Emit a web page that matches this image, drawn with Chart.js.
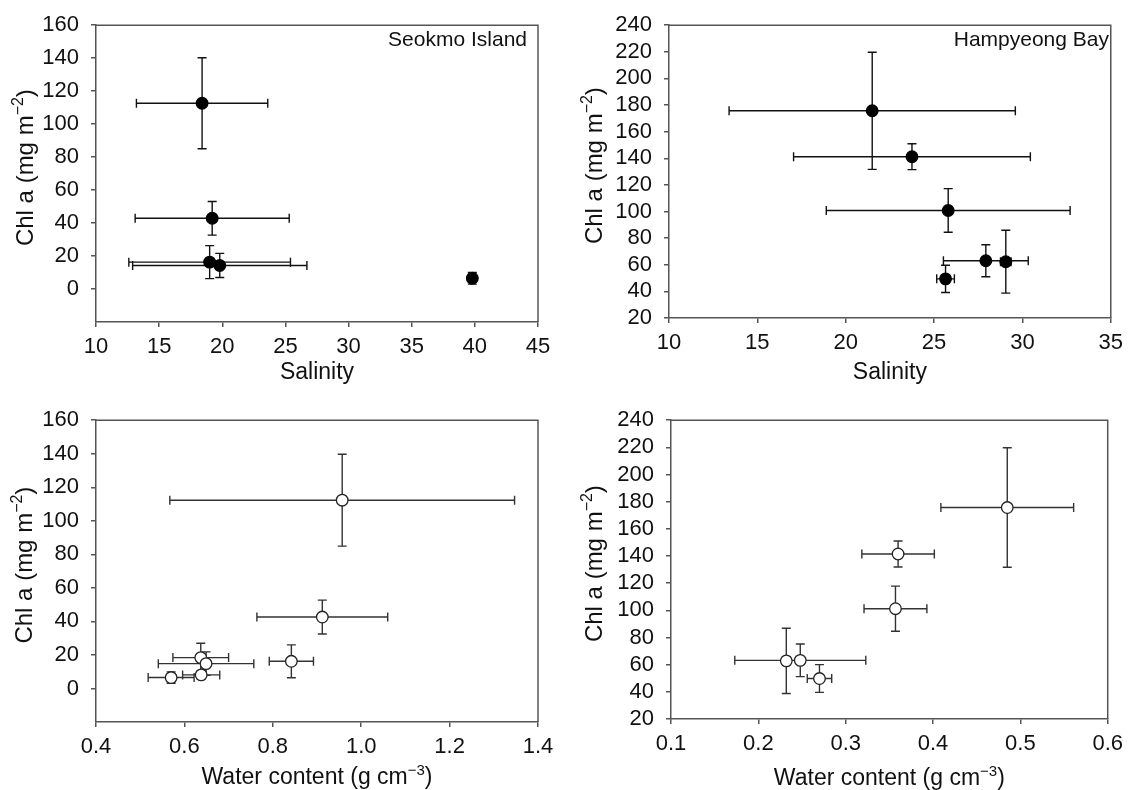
<!DOCTYPE html>
<html><head><meta charset="utf-8">
<script src="https://cdn.jsdelivr.net/npm/chart.js@4.4.1/dist/chart.umd.min.js"></script>
<style>
html,body{margin:0;padding:0;background:#fff;overflow:hidden;}
.p{position:absolute;width:565px;height:395px;}
</style></head><body>
<div class="p" style="left:0;top:0"><canvas id="c1"></canvas></div>
<div class="p" style="left:565px;top:0"><canvas id="c2"></canvas></div>
<div class="p" style="left:0;top:395px"><canvas id="c3"></canvas></div>
<div class="p" style="left:565px;top:395px"><canvas id="c4"></canvas></div>
<script>
// ---- Seokmo Island: Chl a vs salinity ----
const salSeokmo      = [18.4, 19.2, 19.0, 19.8, 39.8];
const salSeokmoErr   = [5.2, 6.1, 6.4, 6.9, 0.3];
const chlSeokmoSal   = [112.7, 42.9, 16.3, 14.3, 6.5];
const chlSeokmoSalErr= [27.6, 10.2, 10.0, 7.3, 3.5];
// ---- Hampyeong Bay: Chl a vs salinity ----
const salHamp        = [21.5, 23.75, 25.8, 27.93, 29.06, 25.65];
const salHampErr     = [8.1, 6.7, 6.9, 2.4, 0.3, 0.5];
const chlHampSal     = [175.7, 141.2, 100.8, 63.0, 62.3, 49.4];
const chlHampSalErr  = [44, 9.7, 16.4, 12, 23.6, 10.2];
// ---- Seokmo Island: Chl a vs water content ----
const wcSeokmo       = [0.957, 0.912, 0.842, 0.637, 0.649, 0.638, 0.570];
const wcSeokmoErr    = [0.39, 0.148, 0.05, 0.063, 0.108, 0.042, 0.052];
const chlSeokmoWc    = [112.3, 42.6, 16.2, 18.4, 14.8, 8.1, 6.5];
const chlSeokmoWcErr = [27.4, 10.1, 9.8, 8.6, 7.0, 2.3, 3.4];
// ---- Hampyeong Bay: Chl a vs water content ----
const wcHamp         = [0.485, 0.36, 0.357, 0.232, 0.248, 0.27];
const wcHampErr      = [0.076, 0.0415, 0.036, 0.004, 0.075, 0.014];
const chlHampWc      = [175.7, 141.5, 101.2, 62.8, 63.2, 49.8];
const chlHampWcErr   = [44, 9.6, 16.6, 24, 12, 10.2];

// axis ranges / tick steps
const salSeokmoAxis = {min:10, max:45, step:5, dec:0};
const salHampAxis   = {min:10, max:35, step:5, dec:0};
const wcSeokmoAxis  = {min:0.4, max:1.4, step:0.2, dec:1};
const wcHampAxis    = {min:0.1, max:0.6, step:0.1, dec:1};
const chlSeokmoAxis = {min:-20, max:160, step:20};
const chlHampAxis   = {min:20, max:240, step:20};

// titles
const yTitle  = [{t:'Chl a (mg m'},{t:'\u22122',s:true},{t:')'}];
const salTitle= [{t:'Salinity'}];
const wcTitle = [{t:'Water content (g cm'},{t:'\u22123',s:true},{t:')'}];

const FONT = "'Liberation Sans', Arial, Helvetica, sans-serif";
const AX = '#555';
const TXT = '#111';

function drawRich(ctx, parts, x, y, size, rot, align){
  ctx.save();
  ctx.translate(x, y);
  if (rot) ctx.rotate(-Math.PI/2);
  ctx.textBaseline = 'alphabetic';
  ctx.textAlign = 'left';
  ctx.fillStyle = TXT;
  const fontOf = p => (p.i ? 'italic ' : '') + (p.s ? Math.round(size*0.65) : size) + 'px ' + FONT;
  let total = 0;
  const widths = parts.map(p => { ctx.font = fontOf(p); const w = ctx.measureText(p.t).width; total += w; return w; });
  let cx = align === 'right' ? -total : -total/2;
  parts.forEach((p, k) => {
    ctx.font = fontOf(p);
    ctx.fillText(p.t, cx, p.s ? -size*0.4 : 0);
    cx += widths[k];
  });
  ctx.restore();
}

function makePanel(id, p){
  const W = 565, H = 395;
  const a = p.area;
  const deco = {
    id: 'deco',
    beforeDatasetsDraw(chart){
      const xs = chart.scales.x, ys = chart.scales.y, ctx = chart.ctx;
      const cap = 4.5;
      ctx.save();
      ctx.strokeStyle = p.barColor; ctx.lineWidth = 1.4;
      p.x.forEach((xv, i) => {
        const yv = p.y[i];
        const px = xs.getPixelForValue(xv), py = ys.getPixelForValue(yv);
        const x0 = xs.getPixelForValue(xv - p.xErr[i]), x1 = xs.getPixelForValue(xv + p.xErr[i]);
        const y0 = ys.getPixelForValue(yv - p.yErr[i]), y1 = ys.getPixelForValue(yv + p.yErr[i]);
        ctx.beginPath();
        ctx.moveTo(x0, py); ctx.lineTo(x1, py);
        ctx.moveTo(x0, py-cap); ctx.lineTo(x0, py+cap);
        ctx.moveTo(x1, py-cap); ctx.lineTo(x1, py+cap);
        ctx.moveTo(px, y0); ctx.lineTo(px, y1);
        ctx.moveTo(px-cap, y0); ctx.lineTo(px+cap, y0);
        ctx.moveTo(px-cap, y1); ctx.lineTo(px+cap, y1);
        ctx.stroke();
      });
      ctx.restore();
    },
    afterDraw(chart){
      const ctx = chart.ctx, ca = chart.chartArea;
      ctx.save();
      ctx.strokeStyle = AX; ctx.lineWidth = 1.5;
      ctx.beginPath();
      ctx.moveTo(ca.left, ca.top); ctx.lineTo(ca.right, ca.top); ctx.lineTo(ca.right, ca.bottom);
      ctx.stroke();
      ctx.restore();
      drawRich(ctx, p.xTitle, (ca.left+ca.right)/2, p.xTitleY, 23, false);
      drawRich(ctx, yTitle, p.yTitleX, (ca.top+ca.bottom)/2 - 6, 24, true);
      if (p.inset) drawRich(ctx, [{t:p.inset}], p.insetX, p.insetY, 21, false, 'right');
    }
  };
  const tickFont = {family: FONT, size: 22};
  return new Chart(document.getElementById(id), {
    type: 'scatter',
    data: { datasets: [{
      data: p.x.map((v, i) => ({x: v, y: p.y[i]})),
      pointRadius: 5.8,
      pointBackgroundColor: p.filled ? '#000' : '#fff',
      pointBorderColor: p.filled ? '#000' : '#222',
      pointBorderWidth: 1.3,
      showLine: false
    }]},
    options: {
      responsive: true, maintainAspectRatio: false, animation: false, events: [],
      layout: { padding: {left: 0, top: a.top, right: W - a.right, bottom: 0} },
      plugins: { legend: {display: false}, tooltip: {enabled: false} },
      scales: {
        x: {
          type: 'linear', position: 'bottom',
          min: p.xAxis.min, max: p.xAxis.max,
          ticks: { stepSize: p.xAxis.step, autoSkip: false, maxRotation: 0, padding: 7,
                   color: TXT, font: tickFont,
                   callback: v => Number(v).toFixed(p.xAxis.dec) },
          grid: { display: true, drawOnChartArea: false, drawTicks: true, tickLength: 5, color: AX, lineWidth: 1.5 },
          border: { display: true, color: AX, width: 1.5 },
          afterFit: s => { s.height = H - a.bottom; }
        },
        y: {
          type: 'linear', position: 'left',
          min: p.yAxis.min, max: p.yAxis.max,
          ticks: { stepSize: p.yAxis.step, autoSkip: false, padding: 12, color: TXT, font: tickFont,
                   callback: v => (v < 0 ? '' : String(v)) },
          grid: { display: true, drawOnChartArea: false, drawTicks: true, tickLength: 5, lineWidth: 1.5,
                  color: AX, tickColor: c => (c.tick && c.tick.value < 0 ? 'rgba(0,0,0,0)' : AX) },
          border: { display: true, color: AX, width: 1.5 },
          afterFit: s => { s.width = a.left; }
        }
      }
    },
    plugins: [deco]
  });
}

makePanel('c1', {x: salSeokmo, xErr: salSeokmoErr, y: chlSeokmoSal, yErr: chlSeokmoSalErr,
  xAxis: salSeokmoAxis, yAxis: chlSeokmoAxis, filled: true, barColor: '#111',
  area: {left: 96, top: 20, right: 538, bottom: 322},
  xTitle: salTitle, xTitleY: 379, yTitleX: 33,
  inset: 'Seokmo Island', insetX: 527, insetY: 46});
makePanel('c2', {x: salHamp, xErr: salHampErr, y: chlHampSal, yErr: chlHampSalErr,
  xAxis: salHampAxis, yAxis: chlHampAxis, filled: true, barColor: '#111',
  area: {left: 104, top: 19, right: 546, bottom: 318},
  xTitle: salTitle, xTitleY: 379, yTitleX: 37,
  inset: 'Hampyeong Bay', insetX: 544, insetY: 46});
makePanel('c3', {x: wcSeokmo, xErr: wcSeokmoErr, y: chlSeokmoWc, yErr: chlSeokmoWcErr,
  xAxis: wcSeokmoAxis, yAxis: chlSeokmoAxis, filled: false, barColor: '#333',
  area: {left: 96, top: 25, right: 538, bottom: 327},
  xTitle: wcTitle, xTitleY: 389, yTitleX: 32});
makePanel('c4', {x: wcHamp, xErr: wcHampErr, y: chlHampWc, yErr: chlHampWcErr,
  xAxis: wcHampAxis, yAxis: chlHampAxis, filled: false, barColor: '#333',
  area: {left: 106, top: 24, right: 548, bottom: 324},
  xTitle: wcTitle, xTitleY: 390, yTitleX: 37});
</script>
</body></html>
